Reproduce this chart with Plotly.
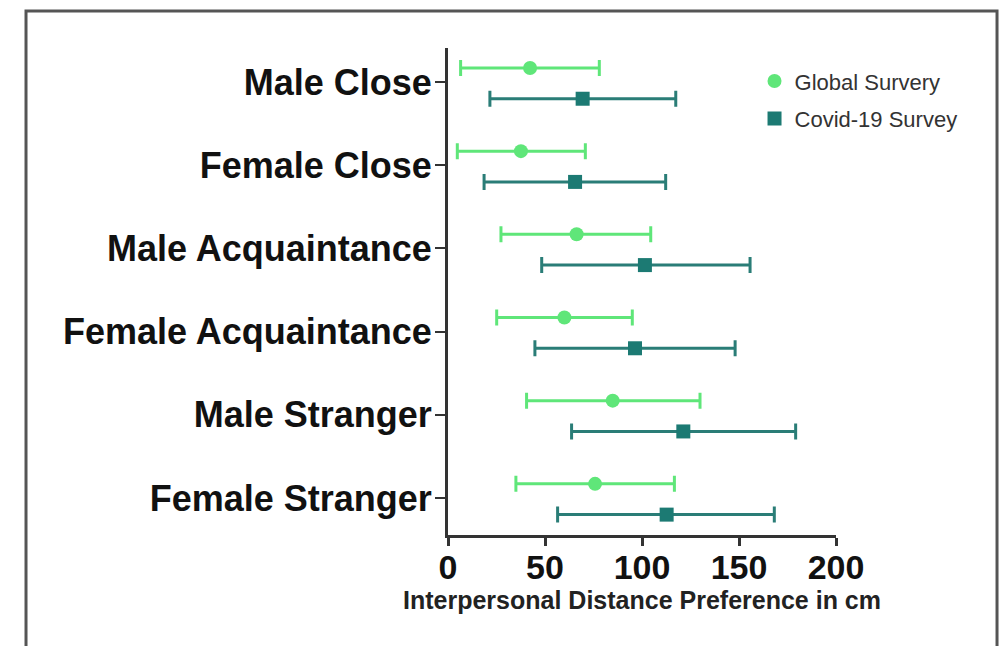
import plotly.graph_objects as go

categories = ["Male Close", "Female Close", "Male Acquaintance",
              "Female Acquaintance", "Male Stranger", "Female Stranger"]

global_mean = [42.3, 37.6, 66.3, 60.0, 84.9, 75.8]
global_low = [6.5, 4.8, 27.3, 25.1, 40.5, 35.0]
global_high = [78.0, 70.8, 104.5, 95.0, 129.9, 116.7]

covid_mean = [69.4, 65.5, 101.5, 96.4, 121.3, 112.7]
covid_low = [21.6, 18.6, 48.3, 44.8, 63.7, 56.5]
covid_high = [117.4, 112.2, 155.7, 148.0, 179.2, 168.2]

x_ticks = [0, 50, 100, 150, 200]

GREEN = "#5fe679"
TEAL = "#1c7a73"
FONT = "Liberation Sans"

idx = list(range(len(categories)))
g_off, c_off = -0.17, 0.2

fig = go.Figure()
fig.add_trace(go.Scatter(
    x=global_mean, y=[i + g_off for i in idx], mode="markers",
    name="Global Survery", legendgroup="g",
    marker=dict(symbol="circle", size=14, color=GREEN),
    error_x=dict(type="data", symmetric=False,
                 array=[h - m for h, m in zip(global_high, global_mean)],
                 arrayminus=[m - l for m, l in zip(global_mean, global_low)],
                 color=GREEN, thickness=3, width=8),
))
fig.add_trace(go.Scatter(
    x=covid_mean, y=[i + c_off for i in idx], mode="markers",
    name="Covid-19 Survey", legendgroup="c",
    marker=dict(symbol="square", size=14, color=TEAL),
    error_x=dict(type="data", symmetric=False,
                 array=[h - m for h, m in zip(covid_high, covid_mean)],
                 arrayminus=[m - l for m, l in zip(covid_mean, covid_low)],
                 color="#2a7d77", thickness=3, width=8),
))

fig.update_layout(
    width=999, height=638,
    margin=dict(l=440, r=171, t=40, b=111),
    paper_bgcolor="white", plot_bgcolor="white",
    showlegend=True,
    legend=dict(x=0.79, y=0.975, xanchor="left", yanchor="top",
                font=dict(family=FONT, size=22, color="#333333"),
                tracegroupgap=6, traceorder="grouped",
                bgcolor="rgba(0,0,0,0)"),
    xaxis=dict(range=[0, 200], tickvals=x_ticks, showgrid=False, zeroline=False,
               showline=True, linecolor="#333333", linewidth=3,
               ticks="outside", ticklen=8, tickwidth=3, tickcolor="#333333",
               ticklabelstandoff=-8,
               tickfont=dict(family=FONT, size=34, color="#111111", weight="bold"),
               title=dict(text="Interpersonal Distance Preference in cm",
                          font=dict(family=FONT, size=25, color="#222222", weight="bold"),
                          standoff=4)),
    yaxis=dict(range=[5.445, -0.41], tickvals=idx, ticktext=categories,
               showgrid=False, zeroline=False,
               showline=True, linecolor="#333333", linewidth=3,
               ticks="outside", ticklen=10, tickwidth=2, tickcolor="#333333",
               ticklabelstandoff=-4,
               tickfont=dict(family=FONT, size=36, color="#111111", weight="bold")),
    shapes=[dict(type="rect", xref="paper", yref="paper",
                 x0=-1.0876, x1=1.415, y0=-0.3, y1=1.076,
                 line=dict(color="#555555", width=3), layer="below")],
)

fig.write_html("out.html")
